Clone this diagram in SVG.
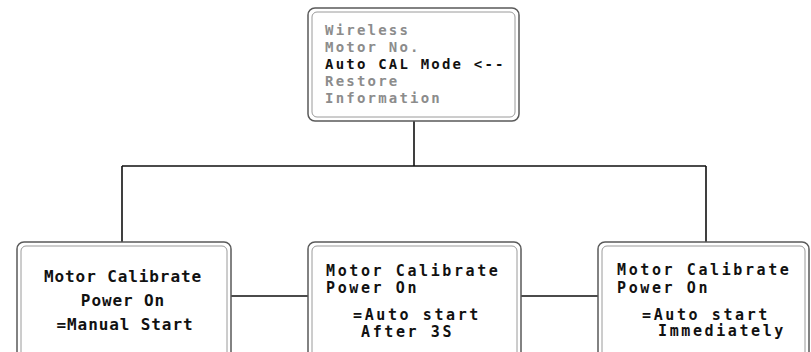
<svg xmlns="http://www.w3.org/2000/svg" width="811" height="352" viewBox="0 0 811 352">
<style>
.outer{fill:#fff;stroke:#5a5a5a;stroke-width:1.5}
.inner{fill:none;stroke:#9a9a9a;stroke-width:1}
.conn{stroke:#111;stroke-width:1.6;fill:none}
.t{font-family:"DejaVu Sans Mono","Liberation Mono",monospace;font-weight:bold;fill:#111}
.top{font-size:14px;letter-spacing:2.2px}
.g{fill:#8c8c8c}
.b1{font-size:16px;letter-spacing:0.9px}
.b2{font-size:15px;letter-spacing:2.6px}
</style>
<rect width="811" height="352" fill="#fff"/>
<g id="connectors">
<path class="conn" d="M414 121V166M122 166H706M122 166V242M706 166V242M231 296H308M521 296H598"/>
</g>
<g id="menu">
<rect class="outer" x="308" y="8" width="211" height="113" rx="7"/>
<rect class="inner" x="312" y="12" width="203" height="105" rx="5"/>
<text class="t top g" x="325" y="35">Wireless</text>
<text class="t top g" x="325" y="52">Motor No.</text>
<text class="t top" x="325" y="69">Auto CAL Mode &lt;--</text>
<text class="t top g" x="325" y="86">Restore</text>
<text class="t top g" x="325" y="103">Information</text>
</g>
<g id="manual">
<rect class="outer" x="17" y="242" width="214" height="130" rx="7"/>
<rect class="inner" x="21" y="246" width="206" height="130" rx="5"/>
<text class="t b1" x="123" y="282" text-anchor="middle">Motor Calibrate</text>
<text class="t b1" x="123" y="306" text-anchor="middle">Power On</text>
<text class="t b1" x="125" y="330" text-anchor="middle">=Manual Start</text>
</g>
<g id="after3s">
<rect class="outer" x="308" y="242" width="213" height="130" rx="7"/>
<rect class="inner" x="312" y="246" width="205" height="130" rx="5"/>
<text class="t b2" x="326" y="276">Motor Calibrate</text>
<text class="t b2" x="326" y="293">Power On</text>
<text class="t b2" x="353" y="320">=Auto start</text>
<text class="t b2" x="361" y="337">After 3S</text>
</g>
<g id="immediately">
<rect class="outer" x="598" y="242" width="211" height="130" rx="7"/>
<rect class="inner" x="602" y="246" width="203" height="130" rx="5"/>
<text class="t b2" x="617" y="275">Motor Calibrate</text>
<text class="t b2" x="617" y="293">Power On</text>
<text class="t b2" x="642" y="320">=Auto start</text>
<text class="t b2" x="658" y="336">Immediately</text>
</g>
</svg>
